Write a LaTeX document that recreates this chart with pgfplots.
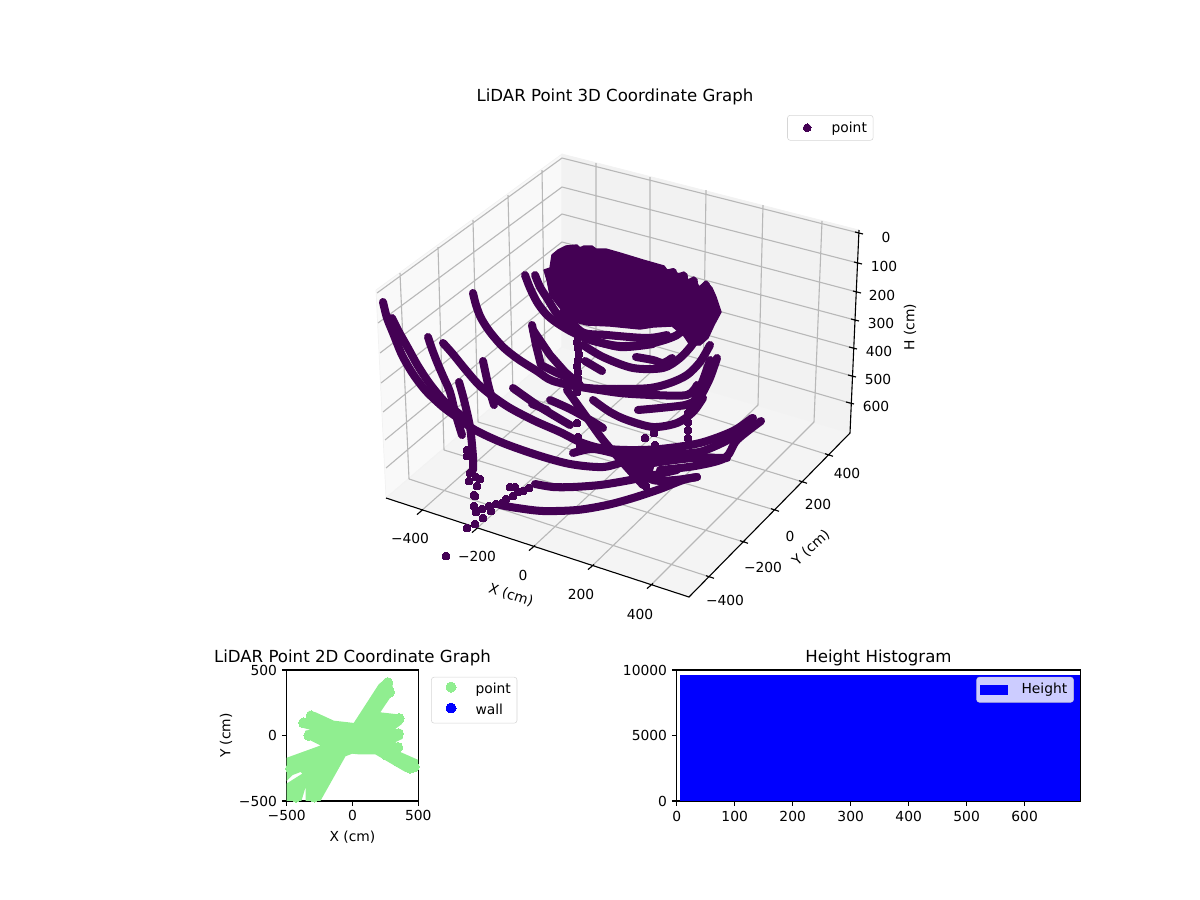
\documentclass[border=0pt]{standalone}
\usepackage{fontspec}
\setmainfont{DejaVu Sans}
\usepackage{pgfplots}
\pgfplotsset{compat=1.18}
\definecolor{pt}{HTML}{440154}
\definecolor{lg}{HTML}{90EE90}
\definecolor{gridc}{HTML}{B8B8B8}
\pgfplotsset{
  every axis title shift=0pt,
  legbox/.style={draw=black!20,rounded corners=2pt,fill=white,fill opacity=0.8,draw opacity=0.8,text opacity=1,font=\fontsize{10}{12}\selectfont,inner xsep=2.5pt,inner ysep=2.5pt,row sep=2pt},
  arc/.style={pt,line width=5.8pt,line cap=round,line join=round,smooth,mark=none,forget plot},
  flat/.style={pt,line width=5.8pt,line cap=round,line join=round,mark=none,forget plot},
  dots/.style={pt,only marks,mark=*,mark size=2.8pt,mark options={pt,line width=0pt},forget plot},
  flatax/.style={scale only axis,axis line style={black,line width=0.8pt},tick style={black,line width=0.8pt},tick align=outside,major tick length=3.5pt,xtick pos=bottom,ytick pos=left,title style={font=\fontsize{12}{14}\selectfont,yshift=-0.8pt},label style={font=\fontsize{10}{12}\selectfont},tick label style={font=\fontsize{10}{12}\selectfont},xlabel style={yshift=0pt},ylabel style={yshift=-2pt}},
  markleg/.style={legend cell align=left,legend image code/.code={\path (0,0) (27pt,0);\draw[##1] plot coordinates {(11.5pt,0)};}},
  seg/.style={unbounded coords=jump,forget plot},
}
\begin{document}
\begin{tikzpicture}
\useasboundingbox (0,0) rectangle (12in,9in);
\begin{axis}[at={(0,0)},anchor=south west,scale only axis,width=12in,height=9in,hide axis,
  xmin=0,xmax=1200,ymin=0,ymax=900,y dir=reverse,clip=false,
  title={LiDAR Point 3D Coordinate Graph},title style={at={(0.5125,0.8922)},anchor=center,font=\fontsize{12}{14}\selectfont},
]
% panes
\addplot[fill=black!2.4,draw=black!5,line width=0.5pt,forget plot] coordinates {(376,290)(562,154)(562,347)(386,498)} --cycle;
\addplot[fill=black!5.2,draw=black!5,line width=0.5pt,forget plot] coordinates {(562,154)(859,230)(850,433)(562,347)} --cycle;
\addplot[fill=black!4.2,draw=black!5,line width=0.5pt,forget plot] coordinates {(386,498)(562,347)(850,433)(689,597)} --cycle;
% grid
\addplot[gridc,line width=0.8pt,seg] coordinates {
(400,273)(409,479)(nan,nan)(438,247)(444,450)(nan,nan)(473,220)(478,422)(nan,nan)(508,195)(513,393)(nan,nan)(542,170)(545,366)(nan,nan)
(377,293)(562,158)(859,233)(nan,nan)(378,323)(562,187)(858,263)(nan,nan)(380,353)(562,214)(857,292)(nan,nan)(381,383)(562,242)(855,320)(nan,nan)(383,412)(562,268)(853,348)(nan,nan)(385,440)(562,294)(852,376)(nan,nan)(386,468)(562,319)(850,403)(nan,nan)
(596,163)(596,356)(nan,nan)(650,177)(650,373)(nan,nan)(706,190)(703,389)(nan,nan)(763,205)(758,405)(nan,nan)(822,221)(814,422)(nan,nan)
(420,512)(596,356)(nan,nan)(475,530)(650,373)(nan,nan)(532,548)(703,389)(nan,nan)(591,567)(758,405)(nan,nan)(650,586)(814,422)(nan,nan)
(409,479)(710,577)(nan,nan)(444,450)(744,542)(nan,nan)(478,422)(775,510)(nan,nan)(513,393)(803,482)(nan,nan)(545,366)(829,455)
};
% axis lines and ticks
\addplot[black,line width=0.8pt,seg] coordinates {(386,498)(689,597)(850,433)(859,230)(nan,nan)
(417,514.6)(423,509.4)(nan,nan)(472,532.6)(478,527.4)(nan,nan)(529,550.6)(535,545.4)(nan,nan)(588,569.6)(594,564.4)(nan,nan)(647,588.6)(653,583.4)(nan,nan)
(706,575.7)(714,578.3)(nan,nan)(740,540.7)(748,543.3)(nan,nan)(771,508.7)(779,511.3)(nan,nan)(799,480.7)(807,483.3)(nan,nan)(825,453.7)(833,456.3)(nan,nan)
(855,232)(863,234)(nan,nan)(854,262)(862,264)(nan,nan)(853,291)(861,293)(nan,nan)(851,319)(859,321)(nan,nan)(849,347)(857,349)(nan,nan)(848,375)(856,377)(nan,nan)(846,402)(854,404)
};
% mass of the far rim
\addplot[pt,fill=pt,draw=pt,line width=1pt,line join=round,forget plot] coordinates {
(552,255)(558,250)(566,246)(577,245)(580,248)(584,246)(592,246)(596,249)(606,249)(620,253)(643,260)(664,266)(667,270)(673,269)(678,274)(684,272)(688,280)(694,277)(699,287)(706,281)(712,288)(716,297)(721,312)(714,325)(708,338)(700,345)(690,345)(684,336)(672,326)(653,327)(640,329)(610,326)(587,325)(575,322)(560,308)(550,295)(547,280)(544,270)(550,268)
} --cycle;
% rim fingers
\addplot[flat] coordinates {(673,272)(668,300)};
\addplot[flat] coordinates {(684,276)(678,300)};
\addplot[flat] coordinates {(694,281)(685,310)};
\addplot[flat] coordinates {(706,285)(696,320)};
% long arcs
\addplot[arc] coordinates {(383,302)(387,318)(393,333)(402,355)(413,374)(426,391)(443,407)(458,418)(475,430)(503,443)(537,455)(570,464)(603,467)(627,461)(653,457)(680,454)(703,451)(733,437)(753,418)};
\addplot[arc] coordinates {(392,318)(399,332)(408,348)(418,366)(430,384)(445,402)(462,416)};
\addplot[arc] coordinates {(428,337)(432,349)(437,362)(443,376)(450,392)(455,412)(462,435)};
\addplot[arc] coordinates {(443,343)(452,353)(465,369)(478,384)(491,395)(510,408)(535,421)(560,432)(580,442)(600,448)(627,450)(660,449)(700,443)(733,431)(752,418)};
\addplot[arc] coordinates {(483,361)(486,375)(489,388)(494,405)};
\addplot[arc] coordinates {(459,382)(464,400)(470,427)(473,457)(473,470)};
\addplot[arc] coordinates {(473,293)(476,305)(481,318)(490,332)(503,347)(518,359)(537,371)(553,381)(587,388)(620,389)(650,388)(670,383)(687,375)(700,362)(710,345)};
\addplot[arc] coordinates {(525,275)(530,288)(537,302)(546,314)(557,323)(572,332)(587,338)(620,347)(653,344)};
\addplot[arc] coordinates {(535,275)(540,287)(547,298)(555,311)(564,322)(575,332)(590,340)(620,346)(653,343)(677,335)(690,322)(697,312)};
\addplot[flat] coordinates {(532,325)(536,345)(541,365)(555,372)(573,380)};
\addplot[flat] coordinates {(533,330)(550,355)(565,372)(580,385)};
\addplot[arc] coordinates {(563,312)(582,332)(607,335)(647,338)(667,335)};
\addplot[arc] coordinates {(583,345)(603,357)(633,368)(663,368)(680,358)(692,345)(700,332)(707,315)};
\addplot[arc] coordinates {(636,357)(653,360)(663,363)(672,358)};
\addplot[flat] coordinates {(585,361)(602,371)};
\addplot[arc] coordinates {(587,388)(620,393)(653,395)(687,395)(697,385)};
\addplot[arc] coordinates {(710,360)(703,380)(693,404)};
\addplot[arc] coordinates {(717,358)(710,378)(701,396)};
\addplot[arc] coordinates {(593,400)(610,412)(627,420)(653,427)(677,423)(693,412)(703,398)};
\addplot[arc] coordinates {(638,410)(660,408)(685,405)(697,400)};
\addplot[flat] coordinates {(532,404)(547,410)};
\addplot[arc] coordinates {(550,400)(570,409)(590,420)(603,428)};
\addplot[arc] coordinates {(513,388)(540,407)(570,425)};
\addplot[dots] coordinates {(578,330)(578,336)(577,342)(578,348)(579,354)(578,360)(577,366)(578,372)(578,378)(577,384)};
\addplot[arc] coordinates {(567,390)(585,415)(603,440)(625,465)(643,485)};
% heavy part near the front
\addplot[pt,fill=pt,draw=pt,line width=1pt,line join=round,forget plot] coordinates {(623,449)(650,452)(655,462)(650,478)(645,482)(635,470)(625,462)} --cycle;
\addplot[arc] coordinates {(653,463)(693,458)(727,458)};
\addplot[arc] coordinates {(627,467)(653,480)(675,480)(697,477)};
\addplot[arc] coordinates {(573,453)(593,449)(620,455)(640,463)(650,473)};
\addplot[arc] coordinates {(761,421)(737,440)(725,458)(695,466)(660,470)};
\addplot[arc] coordinates {(535,484)(553,487)(573,487)(600,485)(625,481)(650,476)(677,470)};
\addplot[arc] coordinates {(500,505)(517,508)(543,511)(577,510)(607,505)(633,498)(660,489)(683,480)(697,477)};
% separate points
\addplot[dots] coordinates {
(467,450)(467,456)(470,473)(469,481)(476,477)(480,479)(477,486)(474,495)(475,496)(474,506)(482,509)(476,512)(491,511)(483,518)(475,524)(467,528)(446,556)
(489,506)(496,504)(502,503)(506,499)(513,496)(518,492)(523,491)(529,488)(510,487)(515,487)
(688,405)(688,413)(688,422)(688,430)(688,438)(645,438)(655,445)(654,433)(646,486)
(577,392)(578,410)(577,423)(578,437)(580,445)
};
% tick labels
\foreach \a/\b/\c in {410/538/−400,477/556/−200,523/575/0,581/594/200,640/614/400,725/600/−400,763/567/−200,790/536/0,818/504/200,847/473/400,886/237/0,884/266/100,882/295/200,881/323/300,879/351/400,878/379/500,876/406/600}{
 \edef\tmp{\noexpand\node[font=\noexpand\fontsize{10}{12}\noexpand\selectfont] at (axis cs:\a,\b) {\c};}\tmp
}
\node[font=\fontsize{10}{12}\selectfont,rotate=-18] at (axis cs:511,595) {X (cm)};
\node[font=\fontsize{10}{12}\selectfont,rotate=42] at (axis cs:811,548) {Y (cm)};
\node[font=\fontsize{10}{12}\selectfont,rotate=90] at (axis cs:910,327) {H (cm)};
\end{axis}
% legend of the 3D plot
\begin{axis}[at={(0,0)},anchor=south west,scale only axis,width=12in,height=9in,hide axis,
  xmin=0,xmax=1,ymin=0,ymax=1,markleg,
  legend style={legbox,at={(0.656,0.8722)},anchor=north west},
]
\addlegendimage{pt,only marks,mark=*,mark size=2.8pt,mark options={pt,line width=0pt,fill opacity=1,draw opacity=1}}
\addlegendentry{point}
\end{axis}
% 2D scatter
\begin{axis}[flatax,at={(2.867in,0.99in)},anchor=south west,width=1.315in,height=1.31in,
  xmin=-500,xmax=500,ymin=-500,ymax=500,xtick={-500,0,500},ytick={-500,0,500},
  xticklabels={−500,0,500},yticklabels={−500,0,500},
  xlabel={X (cm)},ylabel={Y (cm)},title={LiDAR Point 2D Coordinate Graph},
  markleg,
  legend style={legbox,at={(1.098,0.947)},anchor=north west},
]
\addplot[lg,fill=lg,draw=none,forget plot] coordinates {
(238,422)(301,404)(313,328)(212,177)(326,164)(389,139)(376,88)(326,50)(384,25)(381,-25)(326,-51)(376,-88)(364,-126)(520,-195)(520,-253)(452,-286)(402,-278)(174,-144)(48,-144)(-2,-139)(-53,-159)(-255,-520)(-356,-520)(-356,-392)(-394,-520)(-520,-520)(-520,-379)(-381,-291)(-394,-278)(-457,-303)(-520,-366)(-520,-177)(-242,-76)(-318,-38)(-368,0)(-356,38)(-318,43)(-394,63)(-406,113)(-348,134)(-331,189)(-280,177)(-141,113)(10,96)(200,391)
} --cycle;
\addplot[lg,only marks,mark=*,mark size=3.6pt,mark options={lg,line width=0pt,fill opacity=1,draw opacity=1}] coordinates {
(268,404)(283,330)(250,340)(200,260)(150,180)(355,130)(290,100)(350,15)(280,10)(345,-90)(280,-60)(440,-250)(470,-240)(350,-200)(260,-150)(-315,150)(-372,96)(-332,0)(-250,100)(-150,50)(-50,0)(0,0)(100,0)(200,0)(-100,-150)(-200,-300)(-290,-470)(-430,-470)(-470,-250)(-350,-170)(-150,-80)
};
\addlegendentry{point}
\addlegendimage{blue,only marks,mark=*,mark size=3.6pt,mark options={blue,line width=0pt,fill opacity=1,draw opacity=1}}
\addlegendentry{wall}
\end{axis}
% histogram
\begin{axis}[flatax,at={(6.767in,0.99in)},anchor=south west,width=4.036in,height=1.31in,
  xmin=0,xmax=696,ymin=0,ymax=10000,xtick={0,100,200,300,400,500,600},ytick={0,5000,10000},
  xticklabels={0,100,200,300,400,500,600},yticklabels={0,5000,10000},scaled y ticks=false,title={Height Histogram},
  legend cell align=left,
  legend style={legbox,at={(0.9839,0.947)},anchor=north east},
  legend image code/.code={\fill[#1,sharp corners,fill opacity=1] (0,-3.5pt) rectangle (20pt,3.5pt);\path (0,0) (28pt,0);},
]
\addplot[ybar interval,fill=blue,draw=none] coordinates {(6,9640)(696,9640)};
\addlegendentry{Height}
\end{axis}
\end{tikzpicture}
\end{document}
